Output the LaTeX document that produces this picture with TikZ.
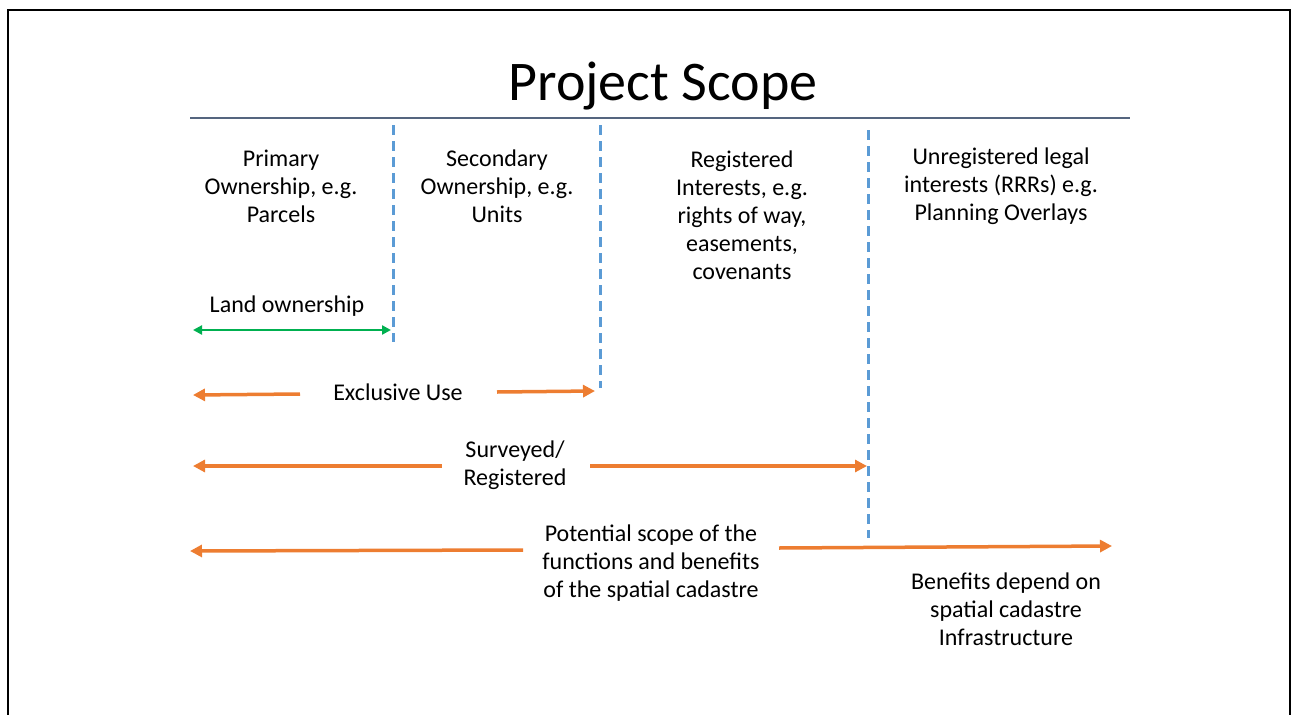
\documentclass[tikz,border=0pt]{standalone}
\usepackage{fontspec}
\setmainfont{Carlito}
\usetikzlibrary{arrows.meta}
\definecolor{scopeorange}{HTML}{ED7D31}
\definecolor{scopegreen}{HTML}{00B050}
\definecolor{scopeblue}{HTML}{5B9BD5}
\definecolor{scoperule}{HTML}{55657F}
\tikzset{
  scopetext/.style={align=center, inner sep=0pt, font=\fontsize{24}{28}\selectfont},
  divider/.style={scopeblue, line width=3pt, dash pattern=on 10pt off 6pt},
  scopearrow/.style={scopeorange, line width=3.5pt, -{Triangle[length=12pt,width=12pt]}},
  ownarrow/.style={scopegreen, line width=2.5pt,
    {Triangle[length=9pt,width=9pt]}-{Triangle[length=9pt,width=9pt]}},
}

\begin{document}
\begin{tikzpicture}[x=1pt,y=-1pt]
  \useasboundingbox (0,0) rectangle (1299,715);
  %
  % slide frame (open at the bottom)
  \draw[line width=2pt] (8,716) -- (8,10) -- (1290,10) -- (1290,716);
  %
  % title and rule
  \node[inner sep=0pt, font=\fontsize{56}{68}\selectfont] (title) at (663,86) {Project Scope};
  \coordinate (ruleL) at (190,118);
  \coordinate (ruleR) at (1130,118);
  \draw[scoperule, line width=2pt] (ruleL) -- (ruleR);
  %
  % column headings
  \node[scopetext] (primary)      at (281,186) {Primary\\Ownership, e.g.\\Parcels};
  \node[scopetext] (secondary)    at (497,186) {Secondary\\Ownership, e.g.\\Units};
  \node[scopetext] (registered)   at (742,215) {Registered\\Interests, e.g.\\rights of way,\\easements,\\covenants};
  \node[scopetext] (unregistered) at (1001,186) {Unregistered legal\\interests (RRRs) e.g.\\Planning Overlays};
  %
  % dashed dividers between the columns
  \foreach \name/\x/\top/\bot in {one/393/125/342, two/600/125/388, three/868/130/538}
  {
    \coordinate (\name top) at (\x,\top);
    \coordinate (\name bot) at (\x,\bot);
    \draw[divider] (\name top) -- (\name bot);
  }
  %
  % land ownership
  \node[scopetext] (land) at (287,306) {Land ownership};
  \coordinate (landL) at (193,330);
  \coordinate (landR) at (391,330);
  \draw[ownarrow] (landL) -- (landR);
  %
  % exclusive use
  \node[scopetext] (exclusive) at (398,392) {Exclusive Use};
  \coordinate (exclA) at (300,394);
  \coordinate (exclL) at (193,395);
  \coordinate (exclB) at (497,392);
  \coordinate (exclR) at (595,391);
  \draw[scopearrow] (exclA) -- (exclL);
  \draw[scopearrow] (exclB) -- (exclR);
  %
  % surveyed / registered
  \node[scopetext] (surveyed) at (515,465) {Surveyed/\\Registered};
  \coordinate (survA) at (442,466);
  \coordinate (survL) at (193,466);
  \coordinate (survB) at (590,466);
  \coordinate (survR) at (867,466);
  \draw[scopearrow] (survA) -- (survL);
  \draw[scopearrow] (survB) -- (survR);
  %
  % potential scope
  \node[scopetext] (potential) at (651,563) {Potential scope of the\\functions and benefits\\of the spatial cadastre};
  \coordinate (potA) at (523,550);
  \coordinate (potL) at (190,551);
  \coordinate (potB) at (779,548);
  \coordinate (potR) at (1112,546);
  \draw[scopearrow] (potA) -- (potL);
  \draw[scopearrow] (potB) -- (potR);
  %
  \node[scopetext] (benefits) at (1006,609) {Benefits depend on\\spatial cadastre\\Infrastructure};
\end{tikzpicture}
\end{document}
